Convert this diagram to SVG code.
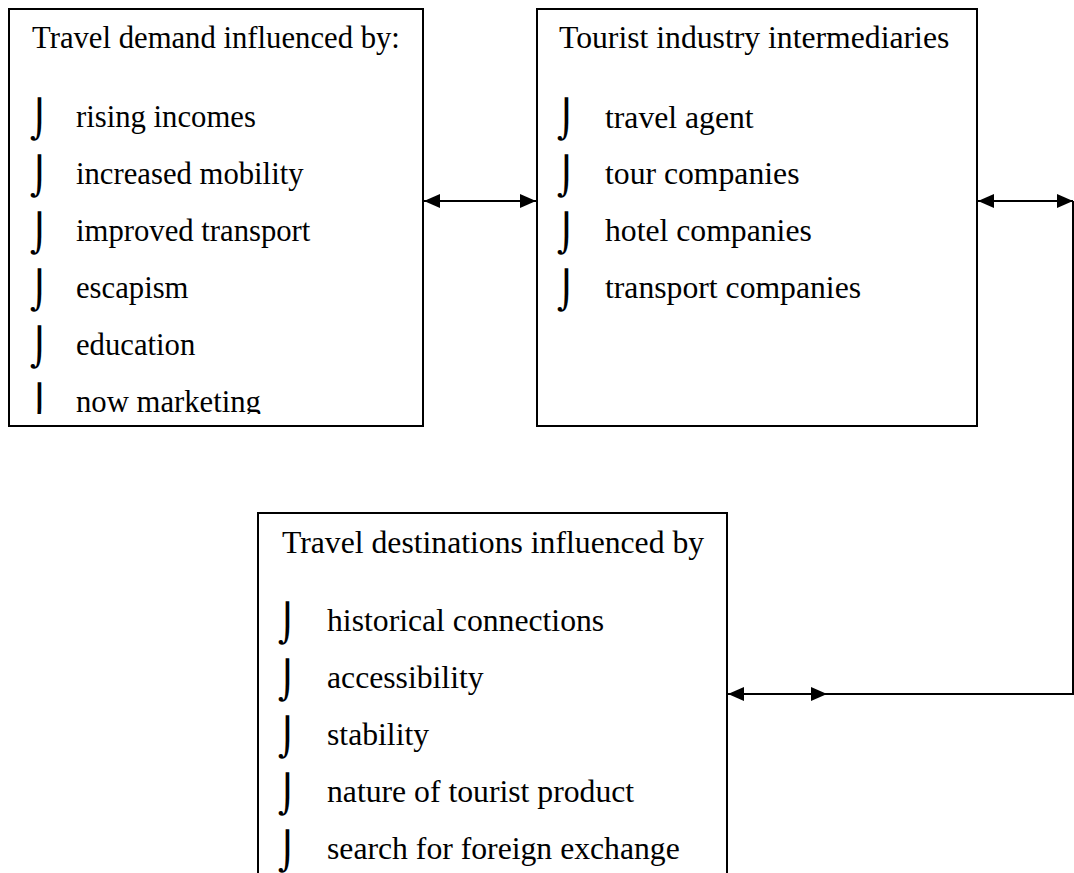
<svg xmlns="http://www.w3.org/2000/svg" width="1074" height="873" viewBox="0 0 1074 873">
<style>
.box{fill:#fff;stroke:#000;stroke-width:2}
.t{font-family:"Liberation Serif","Times New Roman",serif;font-size:30.7px;fill:#000}
.t2{font-family:"Liberation Serif","Times New Roman",serif;font-size:31.7px;fill:#000}
.b{font-family:"DejaVu Sans",sans-serif;font-size:37px;fill:#000}
.c{stroke:#000;stroke-width:2;fill:none}
</style>
<defs>
<marker id="ah" viewBox="0 0 16 14" refX="16" refY="7" markerWidth="16" markerHeight="14" markerUnits="userSpaceOnUse" orient="auto-start-reverse">
<path d="M0,0 L16,7 L0,14 Z" fill="#000"/>
</marker>
<clipPath id="c1"><rect x="0" y="0" width="1074" height="414"/></clipPath>
</defs>
<rect width="1074" height="873" fill="#fff"/>
<g id="demand">
<rect class="box" x="9" y="9" width="414" height="417"/>
<text class="t" x="32" y="48">Travel demand influenced by:</text>
<g clip-path="url(#c1)">
<text class="b" x="30" y="132">⌡</text><text class="t" x="76" y="127">rising incomes</text>
<text class="b" x="30" y="189">⌡</text><text class="t" x="76" y="184">increased mobility</text>
<text class="b" x="30" y="246">⌡</text><text class="t" x="76" y="241">improved transport</text>
<text class="b" x="30" y="303">⌡</text><text class="t" x="76" y="298">escapism</text>
<text class="b" x="30" y="360">⌡</text><text class="t" x="76" y="355">education</text>
<text class="b" x="30" y="417">⌡</text><text class="t" x="76" y="412">now marketing</text>
</g>
</g>
<g id="intermediaries">
<rect class="box" x="537" y="9" width="440" height="417"/>
<text class="t2" x="559" y="48">Tourist industry intermediaries</text>
<text class="b" x="557" y="132">⌡</text><text class="t2" x="605" y="128">travel agent</text>
<text class="b" x="557" y="189">⌡</text><text class="t2" x="605" y="184">tour companies</text>
<text class="b" x="557" y="246">⌡</text><text class="t2" x="605" y="241">hotel companies</text>
<text class="b" x="557" y="303">⌡</text><text class="t2" x="605" y="298">transport companies</text>
</g>
<g id="destinations">
<rect class="box" x="258" y="513" width="469" height="370"/>
<text class="t2" x="282" y="553">Travel destinations influenced by</text>
<text class="b" x="278" y="636">⌡</text><text class="t2" x="327" y="631">historical connections</text>
<text class="b" x="278" y="693">⌡</text><text class="t2" x="327" y="688">accessibility</text>
<text class="b" x="278" y="750">⌡</text><text class="t2" x="327" y="745">stability</text>
<text class="b" x="278" y="807">⌡</text><text class="t2" x="327" y="802">nature of tourist product</text>
<text class="b" x="278" y="864">⌡</text><text class="t2" x="327" y="859">search for foreign exchange</text>
</g>
<g id="connectors">
<line class="c" x1="424" y1="201" x2="536" y2="201" marker-start="url(#ah)" marker-end="url(#ah)"/>
<line class="c" x1="978" y1="201" x2="1073" y2="201" marker-start="url(#ah)" marker-end="url(#ah)"/>
<polyline class="c" points="1073,201 1073,694 811,694"/>
<line class="c" x1="728" y1="694" x2="827" y2="694" marker-start="url(#ah)" marker-end="url(#ah)"/>
</g>
</svg>
